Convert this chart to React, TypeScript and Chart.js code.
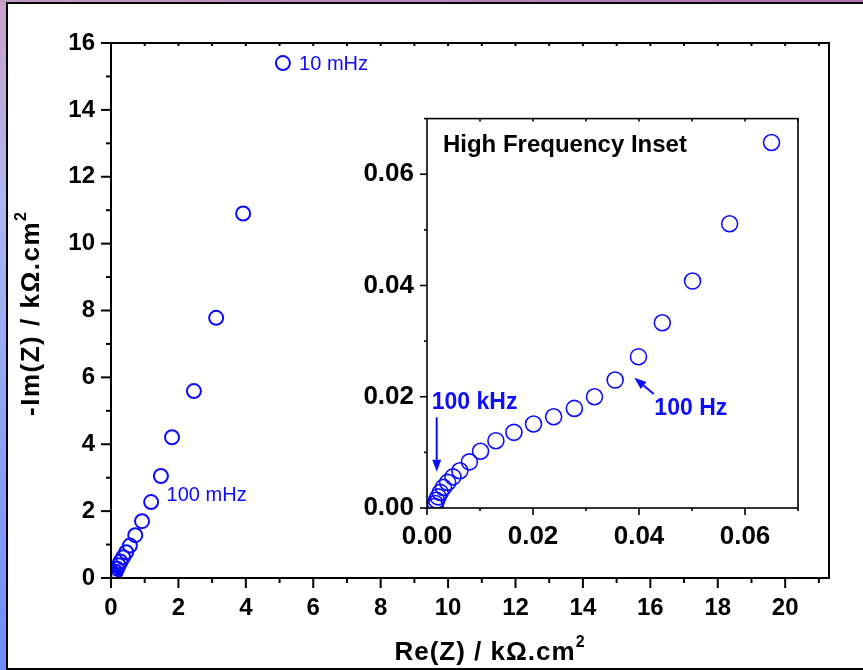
import React, { useEffect, useRef } from 'react';
import { Chart, registerables } from 'chart.js';
Chart.register(...registerables);

// High-frequency points (also shown in the inset), kOhm.cm2
const hfRe = [0.0015, 0.0016, 0.0018, 0.0021, 0.0025, 0.0031, 0.0039, 0.0049, 0.0062, 0.0080, 0.0101, 0.0130, 0.0164, 0.0201, 0.0239, 0.0278, 0.0316, 0.0355, 0.0399, 0.0444, 0.0501, 0.0571, 0.0650];
const hfIm = [0.0003, 0.0008, 0.0014, 0.0020, 0.0028, 0.0037, 0.0046, 0.0056, 0.0067, 0.0083, 0.0102, 0.0121, 0.0136, 0.0151, 0.0164, 0.0179, 0.0200, 0.0230, 0.0272, 0.0333, 0.0408, 0.0511, 0.0657];
// Low-frequency points (main plot only)
const lfRe = [0.085, 0.10, 0.14, 0.18, 0.23, 0.28, 0.36, 0.45, 0.56, 0.72, 0.92, 1.19, 1.48, 1.81, 2.46, 3.12, 3.92, 5.10];
const lfIm = [0.08, 0.12, 0.19, 0.28, 0.38, 0.49, 0.62, 0.77, 0.97, 1.28, 1.70, 2.27, 3.05, 4.21, 5.59, 7.78, 10.90, 15.40];

const mainXTicks = [0, 2, 4, 6, 8, 10, 12, 14, 16, 18, 20];
const mainYTicks = [0, 2, 4, 6, 8, 10, 12, 14, 16];
const insetXTicks = [0, 0.02, 0.04, 0.06];
const insetYTicks = [0, 0.02, 0.04, 0.06];

const BLUE = '#0c0cff';
const FONT = '"Liberation Sans", Arial, sans-serif';

type Txt = { text: string; x: number; y: number; size: number; bold: boolean; color: string };
type Arrow = { x1: number; y1: number; x2: number; y2: number };

const mainNotes: Txt[] = [
  { text: '10 mHz', x: 5.58, y: 15.35, size: 20, bold: false, color: BLUE },
  { text: '100 mHz', x: 1.65, y: 2.48, size: 20, bold: false, color: BLUE },
];
const insetNotes: Txt[] = [
  { text: 'High Frequency Inset', x: 0.003, y: 0.0651, size: 24, bold: true, color: '#000' },
  { text: '100 kHz', x: 0.0009, y: 0.019, size: 23, bold: true, color: BLUE },
  { text: '100 Hz', x: 0.0429, y: 0.0178, size: 23, bold: true, color: BLUE },
];
const insetArrows: Arrow[] = [
  { x1: 0.00183, y1: 0.0163, x2: 0.00183, y2: 0.0065 },
  { x1: 0.04278, y1: 0.0205, x2: 0.03913, y2: 0.0234 },
];

type Spec = {
  xMinor: number; yMinor: number; majorEvery: number;
  majorLen: number; minorLen: number; topLen: number; lw: number;
  notes: Txt[]; arrows: Arrow[]; fillArea: boolean; titles: boolean;
};

function decoPlugin(spec: Spec) {
  return {
    id: 'deco',
    beforeDraw(chart: any) {
      if (!spec.fillArea) return;
      const { ctx, chartArea: a } = chart;
      ctx.save();
      ctx.fillStyle = '#fff';
      ctx.fillRect(a.left, a.top, a.right - a.left, a.bottom - a.top);
      ctx.restore();
    },
    afterDraw(chart: any) {
      const { ctx, chartArea: a, scales } = chart;
      const xs = scales.x, ys = scales.y;
      ctx.save();
      ctx.strokeStyle = '#000';
      ctx.lineWidth = spec.lw;
      ctx.lineCap = 'square';
      ctx.strokeRect(a.left, a.top, a.right - a.left, a.bottom - a.top);
      ctx.lineCap = 'butt';
      const line = (x1: number, y1: number, x2: number, y2: number) => {
        ctx.beginPath(); ctx.moveTo(x1, y1); ctx.lineTo(x2, y2); ctx.stroke();
      };
      const nx = Math.round((xs.max - xs.min) / spec.xMinor + 1e-6);
      for (let i = 0; i <= nx; i++) {
        const px = xs.getPixelForValue(xs.min + i * spec.xMinor);
        const len = i % spec.majorEvery === 0 ? spec.majorLen : spec.minorLen;
        line(px, a.bottom, px, a.bottom + len);
        if (i > 0) line(px, a.top, px, a.top + spec.topLen);
      }
      const ny = Math.round((ys.max - ys.min) / spec.yMinor + 1e-6);
      for (let i = 0; i <= ny; i++) {
        const py = ys.getPixelForValue(ys.min + i * spec.yMinor);
        const len = i % spec.majorEvery === 0 ? spec.majorLen : spec.minorLen;
        line(a.left - len, py, a.left, py);
      }
      // annotations
      ctx.textBaseline = 'middle';
      ctx.textAlign = 'left';
      for (const n of spec.notes) {
        ctx.fillStyle = n.color;
        ctx.font = `${n.bold ? 'bold ' : ''}${n.size}px ${FONT}`;
        ctx.fillText(n.text, xs.getPixelForValue(n.x), ys.getPixelForValue(n.y));
      }
      ctx.strokeStyle = BLUE;
      ctx.fillStyle = BLUE;
      ctx.lineWidth = 2;
      for (const ar of spec.arrows) {
        const x1 = xs.getPixelForValue(ar.x1), y1 = ys.getPixelForValue(ar.y1);
        const x2 = xs.getPixelForValue(ar.x2), y2 = ys.getPixelForValue(ar.y2);
        const ang = Math.atan2(y2 - y1, x2 - x1);
        const hl = 12, hw = 4.5;
        const bx = x2 - hl * Math.cos(ang), by = y2 - hl * Math.sin(ang);
        line(x1, y1, bx, by);
        ctx.beginPath();
        ctx.moveTo(x2, y2);
        ctx.lineTo(bx + hw * Math.sin(ang), by - hw * Math.cos(ang));
        ctx.lineTo(bx - hw * Math.sin(ang), by + hw * Math.cos(ang));
        ctx.closePath();
        ctx.fill();
      }
      if (spec.titles) {
        ctx.fillStyle = '#000';
        ctx.textBaseline = 'alphabetic';
        const big = `bold 26px ${FONT}`;
        const sup = `bold 16px ${FONT}`;
        // x title
        const xt = 'Re(Z) / k\u03A9.cm';
        (ctx as any).letterSpacing = '1px';
        ctx.font = big;
        const w1 = ctx.measureText(xt).width;
        ctx.font = sup;
        const w2 = ctx.measureText('2').width;
        const cx = (a.left + a.right) / 2 + 20;
        const x0 = cx - (w1 + w2) / 2;
        ctx.font = big;
        ctx.fillText(xt, x0, 660);
        ctx.font = sup;
        ctx.fillText('2', x0 + w1, 647);
        // y title
        const yt = '-Im(Z) / k\u03A9.cm';
        ctx.save();
        (ctx as any).letterSpacing = '1.5px';
        ctx.translate(39, (a.top + a.bottom) / 2 + 3);
        ctx.rotate(-Math.PI / 2);
        ctx.font = big;
        const v1 = ctx.measureText(yt).width;
        const y0 = -(v1 + w2) / 2;
        ctx.fillText(yt, y0, 0);
        ctx.font = sup;
        ctx.fillText('2', y0 + v1, -13);
        ctx.restore();
      }
      ctx.restore();
    },
  };
}

function points(xs: number[], ys: number[]) {
  return xs.map((x, i) => ({ x, y: ys[i] }));
}

function axis(min: number, max: number, tickVals: number[], fontSize: number, padding: number, fmt: (v: number) => string, fit: (s: any) => void) {
  return {
    type: 'linear' as const,
    min, max,
    grid: { display: false, drawTicks: false, tickLength: 0 },
    border: { display: false },
    afterBuildTicks: (s: any) => { s.ticks = tickVals.map((v) => ({ value: v })); },
    afterFit: fit,
    ticks: {
      color: '#000',
      padding,
      font: { family: FONT, size: fontSize, weight: 'bold' as const },
      callback: (v: any) => fmt(Number(v)),
      maxRotation: 0,
      autoSkip: false,
    },
  };
}

export default function App() {
  const mainRef = useRef<HTMLCanvasElement>(null);
  const insetRef = useRef<HTMLCanvasElement>(null);

  useEffect(() => {
    const mainChart = new Chart(mainRef.current!, {
      type: 'scatter',
      data: {
        datasets: [{
          data: [...points(hfRe, hfIm), ...points(lfRe, lfIm)],
          borderColor: BLUE, backgroundColor: 'rgba(0,0,0,0)',
          pointRadius: 7, pointBorderWidth: 2, showLine: false,
        }],
      },
      options: {
        animation: false, responsive: false, events: [],
        layout: { padding: { left: 0, top: 43, right: 34, bottom: 0 } },
        plugins: { legend: { display: false }, tooltip: { enabled: false } },
        scales: {
          x: axis(0, 21.3, mainXTicks, 24, 16, (v) => String(v), (s) => { s.height = 92; }),
          y: axis(0, 16, mainYTicks, 24, 16, (v) => String(v), (s) => { s.width = 111; }),
        },
      },
      plugins: [decoPlugin({ xMinor: 1, yMinor: 1, majorEvery: 2, majorLen: 10, minorLen: 5, topLen: 3, lw: 2, notes: mainNotes, arrows: [], fillArea: false, titles: true })],
    } as any);

    const insetChart = new Chart(insetRef.current!, {
      type: 'scatter',
      data: {
        datasets: [{
          data: points(hfRe, hfIm),
          borderColor: BLUE, backgroundColor: 'rgba(0,0,0,0)',
          pointRadius: 8, pointBorderWidth: 1.6, showLine: false,
        }],
      },
      options: {
        animation: false, responsive: false, events: [],
        layout: { padding: { left: 0, top: 18, right: 12, bottom: 0 } },
        plugins: { legend: { display: false }, tooltip: { enabled: false } },
        scales: {
          x: axis(0, 0.07, insetXTicks, 26, 13, (v) => v.toFixed(2), (s) => { s.height = 52; }),
          y: axis(0, 0.07, insetYTicks, 26, 13, (v) => v.toFixed(2), (s) => { s.width = 87; }),
        },
      },
      plugins: [decoPlugin({ xMinor: 0.01, yMinor: 0.01, majorEvery: 2, majorLen: 7, minorLen: 3, topLen: 3, lw: 1.6, notes: insetNotes, arrows: insetArrows, fillArea: true, titles: false })],
    } as any);

    return () => { mainChart.destroy(); insetChart.destroy(); };
  }, []);

  return (
    <div style={{ position: 'absolute', left: 0, top: 0, width: 863, height: 670, overflow: 'hidden',
      background: 'linear-gradient(180deg, #c8a2c8 0%, #aeb6f0 30%, #8ea2f4 65%, #6f8cf6 100%)' }}>
      <div style={{ position: 'absolute', left: 0, top: 0, width: 863, height: 3, background: 'linear-gradient(90deg, #c49cc6, #b070b2)' }} />
      <div style={{ position: 'absolute', left: 6, top: 2, width: 900, height: 668, boxSizing: 'border-box', border: '2px solid #000', background: '#fff' }} />
      <canvas ref={mainRef} width={863} height={670} style={{ position: 'absolute', left: 0, top: 0, width: 863, height: 670 }} />
      <canvas ref={insetRef} width={470} height={470} style={{ position: 'absolute', left: 340, top: 90, width: 470, height: 470 }} />
    </div>
  );
}
